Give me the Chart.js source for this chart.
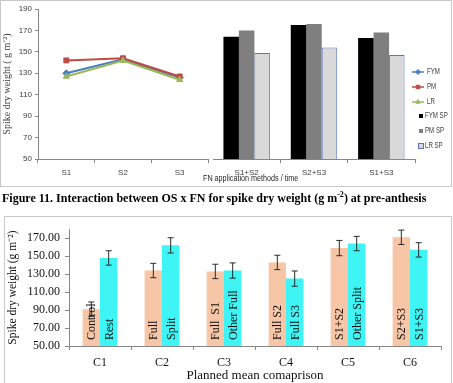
<!DOCTYPE html>
<html>
<head>
<meta charset="utf-8">
<script src="https://cdn.jsdelivr.net/npm/chart.js@4"></script>
<style>
body{margin:0;background:#fff;width:453px;height:383px;overflow:hidden;position:relative}
#topBox{position:absolute;left:0;top:0;width:450px;height:185px;border:1px solid #c8c8c8}
#botBox{position:absolute;left:4px;top:216px;width:446px;height:180px;border:1px solid #c8c8c8}
canvas{position:absolute}
#cA{left:0;top:0}
#cB{left:213px;top:0}
#cC{left:5px;top:217px}
#fnTitle{position:absolute;left:203px;top:173px;font:9px 'Liberation Sans',Arial,sans-serif;color:#262626;white-space:nowrap;transform:scaleX(0.8);transform-origin:left top}
#caption{position:absolute;left:2px;top:191px;font:bold 12px 'Liberation Serif','Times New Roman',serif;line-height:15px;white-space:nowrap;color:#000}
#caption sup{font-size:8px;line-height:0}
</style>
</head>
<body>
<div id="topBox"></div>
<canvas id="cA" width="213" height="186"></canvas>
<canvas id="cB" width="238" height="186"></canvas>
<div id="fnTitle">FN application methods / time</div>
<div id="caption">Figure 11. Interaction between OS x FN for spike dry weight (g m<sup>-2</sup>) at pre-anthesis</div>
<div id="botBox"></div>
<canvas id="cC" width="445" height="166"></canvas>
<script>
// top chart: single application times (lines) and split applications (bars)
var lineCats = ['S1', 'S2', 'S3'];
var barCats = ['S1+S2', 'S2+S3', 'S1+S3'];
var lineNames = ['FYM', 'PM', 'LR'];
var fym = [130, 143, 126];
var pm = [142, 144, 127];
var lr = [127, 142, 124];
var barNames = ['FYM SP', 'PM SP', 'LR SP'];
var fymSp = [164, 175, 163];
var pmSp = [170, 176, 168];
var lrSp = [149, 154, 147];

// bottom chart: planned mean comparison
var planCats = ['C1', 'C2', 'C3', 'C4', 'C5', 'C6'];
var firstNames = ['Control', 'Full', 'Full  S1', 'Full S2', 'S1+S2', 'S2+S3'];
var secondNames = ['Rest', 'Split', 'Other Full', 'Full S3', 'Other Split', 'S1+S3'];
var firstVals = [91, 134, 133, 143, 159, 171];
var secondVals = [148, 162, 134, 125, 164, 157];
var firstErr = [8, 8, 8, 8, 8.5, 8];
var secondErr = [8, 8.5, 8.5, 8.5, 8, 8];
var botTicks = [50, 70, 90, 110, 130, 150, 170];

var LINE_COLORS = ['#4a7ebb', '#be4b48', '#98b954'];
var LINE_MARKERS = ['rectRot', 'rect', 'triangle'];
var BAR_COLORS = ['#000000', '#7f7f7f', '#d9d9d9'];
var AXIS = '#868686';
var sans = "'Liberation Sans', Arial, sans-serif";
var serif = "'Liberation Serif', 'Times New Roman', serif";
var topTick = {family: sans, size: 8};

var lineSets = [fym, pm, lr].map(function(d, i){
  return {
    label: lineNames[i], data: d,
    borderColor: LINE_COLORS[i], backgroundColor: LINE_COLORS[i],
    pointStyle: LINE_MARKERS[i], pointRadius: 3.5, pointBorderWidth: 1,
    borderWidth: 2, order: 2 - i
  };
});

new Chart('cA', {
  type: 'line',
  data: {labels: lineCats, datasets: lineSets},
  options: {
    responsive: false, animation: false,
    layout: {padding: {top: 9, left: 0, right: 0, bottom: 0}},
    plugins: {legend: {display: false}, tooltip: {enabled: false}},
    scales: {
      x: {
        offset: true,
        grid: {offset: true, drawOnChartArea: false, tickLength: 4, color: AXIS},
        border: {color: AXIS},
        ticks: {font: topTick, color: '#404040', padding: 5, maxRotation: 0},
        afterFit: function(s){ s.height = 27; }
      },
      y: {
        min: 50, max: 190,
        ticks: {stepSize: 20, font: topTick, color: '#404040', padding: 3},
        grid: {drawOnChartArea: false, tickLength: 3, color: AXIS},
        border: {color: AXIS},
        title: {display: true, text: 'Spike dry weight ( g m\u207B\u00B2)', font: {family: serif, size: 10}, color: '#404040', padding: {top: 1, bottom: 0}},
        afterFit: function(s){ s.width = 38; }
      }
    }
  }
});

// legend for both halves of the top figure
function squeezedText(ctx, txt, x, y){
  ctx.save();
  ctx.translate(x, y);
  ctx.scale(0.72, 1);
  ctx.fillText(txt, 0, 0);
  ctx.restore();
}
var legendPlugin = {
  id: 'sideLegend',
  afterDraw: function(chart){
    var ctx = chart.ctx;
    ctx.save();
    ctx.font = '8.5px ' + sans;
    ctx.textBaseline = 'middle';
    for (var i = 0; i < 3; i++) {
      var y = 72 + i * 15;
      ctx.strokeStyle = LINE_COLORS[i];
      ctx.fillStyle = LINE_COLORS[i];
      ctx.lineWidth = 1.5;
      ctx.beginPath(); ctx.moveTo(199, y); ctx.lineTo(211, y); ctx.stroke();
      ctx.lineWidth = 1;
      Chart.helpers.drawPoint(ctx, {pointStyle: LINE_MARKERS[i], radius: 2.5, borderWidth: 1}, 205, y);
      ctx.fillStyle = '#404040';
      squeezedText(ctx, lineNames[i], 214, y);
    }
    for (var k = 0; k < 3; k++) {
      var yy = 116 + k * 15;
      ctx.fillStyle = BAR_COLORS[k];
      ctx.fillRect(206, yy - 2, 4, 4);
      if (k == 2) {
        ctx.strokeStyle = '#5b73c0';
        ctx.lineWidth = 1;
        ctx.strokeRect(205.5, yy - 2.5, 5, 5);
      }
      ctx.fillStyle = '#404040';
      squeezedText(ctx, barNames[k], 212, yy);
    }
    ctx.restore();
  }
};

new Chart('cB', {
  type: 'bar',
  data: {
    labels: barCats,
    datasets: [
      {label: barNames[0], data: fymSp, backgroundColor: BAR_COLORS[0]},
      {label: barNames[1], data: pmSp, backgroundColor: BAR_COLORS[1]},
      {label: barNames[2], data: lrSp, backgroundColor: BAR_COLORS[2], borderColor: '#5b73c0',
        borderWidth: {top: 1, left: 1, right: 1, bottom: 0}}
    ]
  },
  options: {
    responsive: false, animation: false,
    categoryPercentage: 0.69, barPercentage: 1,
    layout: {padding: {top: 9, left: 0, right: 36, bottom: 0}},
    plugins: {legend: {display: false}, tooltip: {enabled: false}},
    scales: {
      x: {
        grid: {offset: true, drawOnChartArea: false, tickLength: 4, color: AXIS},
        border: {color: AXIS},
        ticks: {font: topTick, color: '#404040', padding: 5, maxRotation: 0},
        afterFit: function(s){ s.height = 27; }
      },
      y: {
        min: 50, max: 190,
        ticks: {stepSize: 20, font: topTick, color: 'rgba(0,0,0,0)'},
        grid: {display: false},
        border: {display: false},
        afterFit: function(s){ s.width = 0; }
      }
    }
  },
  plugins: [legendPlugin]
});

// bottom chart: error bars and names inside bars
var errs = [firstErr, secondErr];
var names = [firstNames, secondNames];
var barExtras = {
  id: 'barExtras',
  afterDatasetsDraw: function(chart){
    var ctx = chart.ctx;
    var ys = chart.scales.y;
    ctx.save();
    for (var d = 0; d < 2; d++) {
      var meta = chart.getDatasetMeta(d);
      var vals = chart.data.datasets[d].data;
      meta.data.forEach(function(bar, j){
        var top = ys.getPixelForValue(vals[j] + errs[d][j]);
        var bot = ys.getPixelForValue(vals[j] - errs[d][j]);
        ctx.strokeStyle = '#2a2a2a';
        ctx.lineWidth = 1;
        ctx.beginPath();
        ctx.moveTo(bar.x, top); ctx.lineTo(bar.x, bot);
        ctx.moveTo(bar.x - 3, top); ctx.lineTo(bar.x + 3, top);
        ctx.moveTo(bar.x - 3, bot); ctx.lineTo(bar.x + 3, bot);
        ctx.stroke();
        ctx.save();
        ctx.translate(bar.x, ys.bottom - 6);
        ctx.rotate(-Math.PI / 2);
        ctx.font = '12px ' + serif;
        ctx.fillStyle = '#111';
        ctx.textAlign = 'left';
        ctx.textBaseline = 'middle';
        ctx.fillText(names[d][j], 0, 1);
        ctx.restore();
      });
    }
    ctx.restore();
  }
};

var botTick = {family: serif, size: 12};
new Chart('cC', {
  type: 'bar',
  data: {
    labels: planCats,
    datasets: [
      {label: 'first', data: firstVals, backgroundColor: '#f6c6a6'},
      {label: 'second', data: secondVals, backgroundColor: '#3ef4f4'}
    ]
  },
  options: {
    responsive: false, animation: false,
    categoryPercentage: 0.56, barPercentage: 1,
    layout: {padding: {top: 10, left: 0, right: 9, bottom: 0}},
    plugins: {legend: {display: false}, tooltip: {enabled: false}},
    scales: {
      x: {
        grid: {offset: true, drawOnChartArea: false, tickLength: 4, color: AXIS},
        border: {color: AXIS},
        ticks: {font: botTick, color: '#111', padding: 6, maxRotation: 0},
        title: {display: true, text: 'Planned mean comaprison', font: {family: serif, size: 13}, color: '#111', padding: {top: 0, bottom: 0}},
        afterFit: function(s){ s.height = 37; }
      },
      y: {
        min: 50, max: 180,
        afterBuildTicks: function(s){
          s.ticks = botTicks.map(function(v){ return {value: v}; });
        },
        ticks: {font: botTick, color: '#111', padding: 5,
          callback: function(v){ return Number(v).toFixed(2); }},
        grid: {drawOnChartArea: false, tickLength: 4, color: AXIS},
        border: {color: AXIS},
        title: {display: true, text: 'Spike dry weight (g m\u207B\u00B2)', font: {family: serif, size: 11.5}, color: '#111', padding: {top: 1, bottom: 0}},
        afterFit: function(s){ s.width = 64; }
      }
    }
  },
  plugins: [barExtras]
});
</script>
</body>
</html>
